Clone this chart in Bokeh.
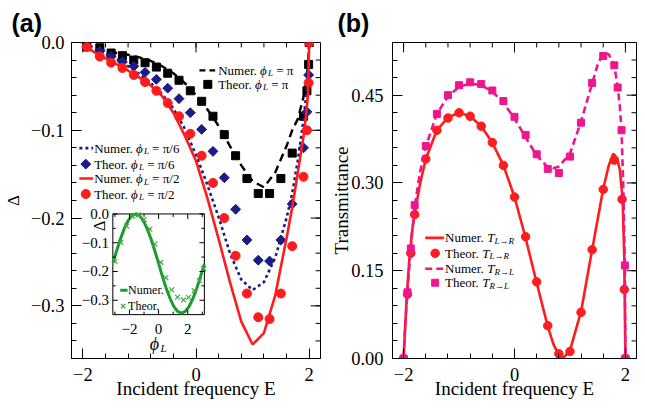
import math
from bokeh.plotting import figure
from bokeh.models import Range1d, FixedTicker, Label
from bokeh.layouts import row
from bokeh.embed import file_html
from bokeh.resources import INLINE

SERIF = "Liberation Serif"
SANS = "Liberation Sans"

# ---------------- panel (a): numerical curves ----------------
E_num = [-1.97, -1.8, -1.6, -1.4, -1.2, -1.0, -0.8, -0.6, -0.4, -0.2, 0.0, 0.2, 0.4,
         0.6, 0.8, 1.0, 1.2, 1.4, 1.6, 1.7, 1.8, 1.9, 1.95, 1.98, 2.0]
d_num_pi = [-0.001, -0.005, -0.009, -0.012, -0.014, -0.017, -0.021, -0.027, -0.035, -0.046,
            -0.060, -0.076, -0.095, -0.118, -0.140, -0.158, -0.165, -0.148, -0.118, -0.100,
            -0.087, -0.062, -0.044, -0.025, 0.0]
d_num_pi6 = [-0.001, -0.007, -0.013, -0.019, -0.027, -0.036, -0.046, -0.059, -0.075, -0.098,
             -0.128, -0.162, -0.199, -0.240, -0.270, -0.282, -0.273, -0.245, -0.200, -0.172,
             -0.134, -0.088, -0.058, -0.035, 0.0]
d_num_pi2 = [-0.002, -0.011, -0.018, -0.025, -0.032, -0.040, -0.049, -0.061, -0.080, -0.106,
             -0.135, -0.177, -0.224, -0.273, -0.318, -0.344, -0.331, -0.288, -0.223, -0.188,
             -0.148, -0.107, -0.080, -0.058, 0.0]

# ---------------- panel (a): theoretical points ----------------
E_th = [-1.93, -1.7, -1.5, -1.3, -1.1, -0.9, -0.7, -0.5, -0.3, -0.1, 0.1, 0.3, 0.5, 0.7,
        0.9, 1.1, 1.3, 1.5, 1.7, 1.9, 1.96, 1.99, 2.0]
d_th_pi = [-0.005, -0.006, -0.012, -0.015, -0.020, -0.023, -0.028, -0.035, -0.043, -0.055,
           -0.067, -0.084, -0.105, -0.129, -0.155, -0.172, -0.172, -0.155, -0.126, -0.084,
           -0.055, -0.025, 0.0]
d_th_pi6 = [-0.005, -0.010, -0.016, -0.022, -0.027, -0.034, -0.042, -0.052, -0.064, -0.080,
            -0.099, -0.124, -0.154, -0.190, -0.225, -0.248, -0.249, -0.225, -0.184, -0.120,
            -0.079, -0.037, 0.0]
d_th_pi2 = [-0.005, -0.016, -0.023, -0.029, -0.037, -0.045, -0.055, -0.069, -0.084, -0.104,
            -0.129, -0.160, -0.200, -0.243, -0.286, -0.313, -0.315, -0.286, -0.232, -0.153,
            -0.100, -0.046, 0.0]

# ---------------- inset: Delta vs phi_L ----------------
phi_num = [-3.14, -2.88, -2.62, -2.36, -2.09, -1.83, -1.57, -1.31, -1.05, -0.79, -0.52, -0.26,
           0.0, 0.26, 0.52, 0.79, 1.05, 1.31, 1.57, 1.83, 2.09, 2.36, 2.62, 2.88, 3.14]
d_phi_num = [-0.170, -0.128, -0.087, -0.051, -0.023, -0.006, 0.0, -0.006, -0.023, -0.051,
             -0.087, -0.128, -0.172, -0.217, -0.258, -0.294, -0.322, -0.339, -0.345, -0.339,
             -0.322, -0.294, -0.258, -0.217, -0.174]
phi_th = [-3.0, -2.6, -2.2, -1.8, -1.4, -1.0, -0.6, -0.25, 0.15, 0.5, 0.9, 1.3, 1.7, 2.05,
          2.45, 2.8, 3.1]
d_phi_th = [-0.165, -0.099, -0.042, -0.008, -0.003, -0.020, -0.053, -0.105, -0.168, -0.222,
            -0.264, -0.289, -0.299, -0.290, -0.267, -0.232, -0.190]

# ---------------- panel (b): transmittance ----------------
E_lr_num = [-2.0, -1.97, -1.94, -1.9, -1.85, -1.8, -1.7, -1.6, -1.4, -1.2, -1.0, -0.8, -0.6,
            -0.4, -0.2, 0.0, 0.2, 0.4, 0.6, 0.7, 0.8, 0.85, 0.9, 1.0, 1.2, 1.4, 1.6, 1.7,
            1.78, 1.85, 1.9, 1.95, 1.98, 2.0]
T_lr_num = [0.0, 0.056, 0.11, 0.165, 0.215, 0.248, 0.300, 0.341, 0.390, 0.412, 0.420, 0.414,
            0.397, 0.369, 0.330, 0.276, 0.206, 0.129, 0.055, 0.025, 0.005, 0.001, 0.003,
            0.014, 0.080, 0.186, 0.290, 0.330, 0.350, 0.342, 0.322, 0.272, 0.170, 0.0]
E_rl_num = [-2.0, -1.97, -1.93, -1.87, -1.8, -1.7, -1.6, -1.4, -1.2, -1.0, -0.8, -0.6, -0.4,
            -0.2, 0.0, 0.2, 0.4, 0.6, 0.7, 0.8, 1.0, 1.2, 1.4, 1.5, 1.6, 1.7, 1.8, 1.86,
            1.9, 1.93, 1.96, 1.99, 2.0]
T_rl_num = [0.0, 0.06, 0.115, 0.19, 0.26, 0.32, 0.362, 0.418, 0.448, 0.464, 0.470, 0.467,
            0.456, 0.437, 0.410, 0.378, 0.347, 0.327, 0.325, 0.328, 0.350, 0.405, 0.470,
            0.502, 0.522, 0.520, 0.500, 0.465, 0.430, 0.390, 0.300, 0.160, 0.0]
E_lr_th = [-2.0, -1.93, -1.87, -1.8, -1.6, -1.4, -1.2, -1.0, -0.8, -0.6, -0.4, -0.2, 0.0,
           0.2, 0.4, 0.6, 0.8, 1.0, 1.2, 1.4, 1.6, 1.8, 1.94, 1.98, 2.0]
T_lr_th = [0.0, 0.11, 0.18, 0.246, 0.341, 0.39, 0.411, 0.420, 0.414, 0.397, 0.369, 0.330,
           0.276, 0.208, 0.131, 0.056, 0.008, 0.012, 0.079, 0.186, 0.289, 0.339, 0.272,
           0.118, 0.0]
E_rl_th = [-2.0, -1.93, -1.87, -1.8, -1.6, -1.4, -1.2, -1.0, -0.8, -0.6, -0.4, -0.2, 0.0,
           0.2, 0.4, 0.6, 0.8, 1.0, 1.2, 1.4, 1.6, 1.8, 1.86, 1.93, 1.99, 2.0]
T_rl_th = [0.0, 0.113, 0.188, 0.262, 0.363, 0.418, 0.450, 0.467, 0.472, 0.469, 0.458, 0.440,
           0.413, 0.382, 0.349, 0.324, 0.317, 0.345, 0.403, 0.471, 0.517, 0.501, 0.463,
           0.390, 0.159, 0.0]

# ---------------- ticks ----------------
x_ticks = [-2, 0, 2]
x_labels = ["−2", "0", "2"]
ya_ticks = [0.0, -0.1, -0.2, -0.3]
ya_labels = ["0.0", "−0.1", "−0.2", "−0.3"]
yb_ticks = [0.0, 0.15, 0.30, 0.45]
yb_labels = ["0.00", "0.15", "0.30", "0.45"]
in_x_ticks = [-2, 0, 2]
in_x_labels = ["−2", "0", "2"]
in_y_ticks = [0.0, -0.1, -0.2, -0.3]
in_y_labels = ["0.0", "−0.1", "−0.2", "−0.3"]

BLACK = "black"
NAVY = "#1c1c88"
RED = "#ff1c1c"
PINK = "#ee168f"
GREEN = "#1f9a2e"
LGREEN = "#45a845"

# ---------------- helpers ----------------
W_REG = {' ': 0.25, '.': 0.25, '/': 0.278, '=': 0.564, 'π': 0.55, '−': 0.564, 'N': 0.722,
         'T': 0.611, 'u': 0.5, 'm': 0.778, 'e': 0.444, 'r': 0.333, 'h': 0.5, 'o': 0.5,
         'I': 0.333, 'n': 0.5, 'c': 0.444, 'i': 0.278, 'd': 0.5, 't': 0.278, 'f': 0.333,
         'q': 0.5, 'y': 0.5, '→': 0.85}
W_IT = {'ϕ': 0.62, 'L': 0.556, 'R': 0.611, 'T': 0.556, 'E': 0.611, '→': 0.85}


def twidth(s, size, style):
    tbl = W_IT if style == "italic" else W_REG
    return sum(tbl.get(c, W_REG.get(c, 0.5)) for c in s) * size


class Map:
    def __init__(self, L, R, T, B, xr, yr):
        self.L, self.R, self.T, self.B, self.xr, self.yr = L, R, T, B, xr, yr

    def x(self, X):
        return self.xr[0] + (X - self.L) / (self.R - self.L) * (self.xr[1] - self.xr[0])

    def y(self, Y):
        return self.yr[1] - (Y - self.T) / (self.B - self.T) * (self.yr[1] - self.yr[0])

    def dx(self, px):
        return px / (self.R - self.L) * (self.xr[1] - self.xr[0])

    def dy(self, px):
        return px / (self.B - self.T) * (self.yr[1] - self.yr[0])


def put(p, m, X, Y, text, size, style="normal", align="left", baseline="middle",
        angle=0.0, font=SERIF):
    p.add_layout(Label(x=m.x(X), y=m.y(Y), text=text, text_font=font,
                       text_font_size=f"{size}px", text_font_style=style,
                       text_align=align, text_baseline=baseline, angle=angle,
                       text_color="black"))


def rich(p, m, X, Y, pieces):
    for s, sz, st, dy in pieces:
        core = s.lstrip(" ")
        X += twidth(s[:len(s) - len(core)], sz, "normal")
        put(p, m, X, Y + dy, core.rstrip(" "), sz, st)
        X += twidth(core, sz, st)


def cfg_axis(ax, ticks, minor, labels, standoff, title, title_size, title_standoff):
    ax.ticker = FixedTicker(ticks=ticks, minor_ticks=minor)
    ax.major_tick_in = 10
    ax.major_tick_out = 0
    ax.minor_tick_in = 5
    ax.minor_tick_out = 0
    ax.axis_line_color = BLACK
    ax.major_tick_line_color = BLACK
    ax.minor_tick_line_color = BLACK
    ax.major_label_overrides = dict(zip(ticks, labels))
    ax.major_label_text_font = SERIF
    ax.major_label_text_font_size = "18.5px"
    ax.major_label_text_color = BLACK
    ax.major_label_standoff = standoff
    ax.axis_label = title
    ax.axis_label_text_font = SERIF
    ax.axis_label_text_font_style = "normal"
    ax.axis_label_text_font_size = f"{title_size}px"
    ax.axis_label_text_color = BLACK
    ax.axis_label_standoff = title_standoff


def mirror_ticks(p, m, xticks, xminor, yticks, yminor):
    x1, y1 = m.xr[1], m.yr[1]
    xs0, ys0, xs1, ys1 = [], [], [], []
    for t in xminor:
        xs0.append(t); ys0.append(y1); xs1.append(t); ys1.append(y1 - m.dy(5))
    for t in xticks:
        xs0.append(t); ys0.append(y1); xs1.append(t); ys1.append(y1 - m.dy(10))
    for t in yminor:
        xs0.append(x1); ys0.append(t); xs1.append(x1 - m.dx(5)); ys1.append(t)
    for t in yticks:
        xs0.append(x1); ys0.append(t); xs1.append(x1 - m.dx(10)); ys1.append(t)
    p.segment(xs0, ys0, xs1, ys1, line_color=BLACK, line_width=1)


def base_fig(width, bl, br, m, xminor, yticks, yminor, ylabels, ystand, ytitle,
             ytitle_size, ytitle_stand, panel, title_offset):
    p = figure(width=width, height=404, x_range=Range1d(*m.xr), y_range=Range1d(*m.yr),
               output_backend="svg", toolbar_location=None,
               min_border_left=bl, min_border_right=br, min_border_top=41,
               min_border_bottom=46, title=panel)
    p.grid.visible = False
    p.outline_line_color = BLACK
    p.background_fill_color = "white"
    p.border_fill_color = "white"
    p.title.align = "left"
    p.title.offset = title_offset
    p.title.standoff = 12
    p.title.text_font = SANS
    p.title.text_font_size = "25px"
    p.title.text_font_style = "bold"
    p.title.text_color = BLACK
    cfg_axis(p.xaxis[0], x_ticks, xminor, x_labels, 9, "Incident frequency E", 19, -6)
    cfg_axis(p.yaxis[0], yticks, yminor, ylabels, ystand, ytitle, ytitle_size, ytitle_stand)
    mirror_ticks(p, m, x_ticks, xminor, yticks, yminor)
    return p


x_minor = [round(-2.0 + 0.4 * k, 2) for k in range(11)]
ya_minor = [round(-0.36 + 0.02 * k, 2) for k in range(19)]
yb_minor = [round(0.03 * k, 2) for k in range(19)]

# ================= panel (a) =================
ma = Map(67, 320, 41, 358, (-2.2, 2.2), (-0.36, 0.0))
pa = base_fig(328, 67, 8, ma, x_minor, ya_ticks, ya_minor, ya_labels, 7, "Δ", 17, 5,
              "(a)", -60)

pa.line(E_num, d_num_pi, line_color=BLACK, line_width=2.4, line_dash="8 5")
pa.scatter(E_th, d_th_pi, marker="square", size=8, color=BLACK)
pa.line(E_num, d_num_pi6, line_color=NAVY, line_width=2.6, line_dash="3 3")
pa.scatter(E_th, d_th_pi6, marker="square", angle=math.pi / 4, size=7, color=NAVY)
pa.line(E_num, d_num_pi2, line_color=RED, line_width=2.6)
pa.scatter(E_th, d_th_pi2, marker="circle", size=9, color=RED)

# legend 1 (top right)
pa.line([ma.x(197), ma.x(213)], [ma.y(69)] * 2, line_color=BLACK, line_width=2.4,
        line_dash="6 4")
pa.scatter([ma.x(205.5)], [ma.y(83)], marker="square", size=8, color=BLACK)
rich(pa, ma, 216, 69, [("Numer. ", 13, "normal", 0), ("ϕ", 13, "italic", 0),
                       ("L", 9, "italic", 3), (" = π", 13, "normal", 0)])
rich(pa, ma, 216, 83, [("Theor. ", 13, "normal", 0), ("ϕ", 13, "italic", 0),
                       ("L", 9, "italic", 3), (" = π", 13, "normal", 0)])
# legend 2 (left)
pa.line([ma.x(75), ma.x(89)], [ma.y(147)] * 2, line_color=NAVY, line_width=2.6,
        line_dash="3 3")
pa.scatter([ma.x(81.5)], [ma.y(163)], marker="square", angle=math.pi / 4, size=7, color=NAVY)
pa.line([ma.x(75), ma.x(89)], [ma.y(177.5)] * 2, line_color=RED, line_width=2.6)
pa.scatter([ma.x(81.5)], [ma.y(193)], marker="circle", size=9, color=RED)
for Yr, head, tail in [(147, "Numer. ", " = π/6"), (163, "Theor. ", " = π/6"),
                       (177.5, "Numer. ", " = π/2"), (193, "Theor. ", " = π/2")]:
    rich(pa, ma, 90, Yr, [(head, 13, "normal", 0), ("ϕ", 13, "italic", 0),
                          ("L", 9, "italic", 3), (tail, 13, "normal", 0)])

# ---- inset ----
IL, IR, IT, IB = 109, 202, 213, 314
ix0, ix1 = -math.pi, math.pi
iy0, iy1 = -0.35, 0.0
sxp = (ix1 - ix0) / (IR - IL)   # inset x units per px
syp = (iy1 - iy0) / (IB - IT)   # inset y units per px
pa.extra_x_ranges = {"ix": Range1d(ix0 - (IL - 67) * sxp, ix1 + (320 - IR) * sxp)}
pa.extra_y_ranges = {"iy": Range1d(iy0 - (358 - IB) * syp, iy1 + (IT - 41) * syp)}
kw = dict(x_range_name="ix", y_range_name="iy")
pa.quad(left=[ix0], right=[ix1], bottom=[iy0], top=[iy1], fill_color="white",
        line_color=BLACK, line_width=1, **kw)
pa.line(phi_num, d_phi_num, line_color=GREEN, line_width=3, **kw)
pa.scatter(phi_th, d_phi_th, marker="x", size=7, line_color=LGREEN, line_width=1.2, **kw)

in_x_minor = [-3, -1, 1, 3]
in_y_minor = [-0.05, -0.15, -0.25]
segs = []
for v, ln in [(t, 5) for t in in_x_ticks] + [(t, 3) for t in in_x_minor]:
    segs.append((v, iy0, v, iy0 + ln * syp))
    segs.append((v, iy1, v, iy1 - ln * syp))
for v, ln in [(t, 5) for t in in_y_ticks] + [(t, 3) for t in in_y_minor]:
    segs.append((ix0, v, ix0 + ln * sxp, v))
    segs.append((ix1, v, ix1 - ln * sxp, v))
pa.segment([s[0] for s in segs], [s[1] for s in segs], [s[2] for s in segs],
           [s[3] for s in segs], line_color=BLACK, line_width=1, **kw)


def inx(phi):
    return IL + (phi - ix0) / sxp


def iny(d):
    return IT + (iy1 - d) / syp


for t, lab in zip(in_x_ticks, in_x_labels):
    put(pa, ma, inx(t), 328, lab, 15, align="center")
for t, lab in zip(in_y_ticks, in_y_labels):
    put(pa, ma, 105, iny(t), lab, 15, align="right")
put(pa, ma, 146.5, 343, "ϕ", 18, "italic")
put(pa, ma, 157.5, 347.5, "L", 11, "italic")
put(pa, ma, 95, 225, "Δ", 16, align="center", angle=math.pi / 2)
# inset legend
pa.line([ma.x(116.5), ma.x(124)], [ma.y(289.5)] * 2, line_color=GREEN, line_width=3)
pa.scatter([ma.x(119.5)], [ma.y(305.5)], marker="x", size=6, line_color=LGREEN,
           line_width=1.2)
put(pa, ma, 124.5, 289.5, "Numer.", 12)
put(pa, ma, 124.5, 305.5, "Theor.", 12)

# ================= panel (b) =================
mb = Map(390, 636, 41, 358, (-2.2, 2.2), (0.0, 0.54))
pb = base_fig(309, 62, 1, mb, x_minor, yb_ticks, yb_minor, yb_labels, 9, "Transmittance", 19,
              -4, "(b)", -55)

pb.line(E_lr_num, T_lr_num, line_color=RED, line_width=2.6)
pb.scatter(E_lr_th, T_lr_th, marker="circle", size=8.5, color=RED)
pb.line(E_rl_num, T_rl_num, line_color=PINK, line_width=2.6, line_dash="7 4")
pb.scatter(E_rl_th, T_rl_th, marker="square", size=7, color=PINK)

pb.line([mb.x(423), mb.x(442)], [mb.y(237)] * 2, line_color=RED, line_width=2.6)
pb.scatter([mb.x(433)], [mb.y(252.5)], marker="circle", size=8.5, color=RED)
pb.line([mb.x(423), mb.x(442)], [mb.y(268)] * 2, line_color=PINK, line_width=2.6,
        line_dash="7 4")
pb.scatter([mb.x(433)], [mb.y(282)], marker="square", size=7, color=PINK)
for Yr, head, sub in [(237, "Numer. ", "L→R"), (252.5, "Theor. ", "L→R"),
                      (268, "Numer. ", "R→L"), (282, "Theor. ", "R→L")]:
    rich(pb, mb, 443, Yr, [(head, 13, "normal", 0), ("T", 13, "italic", 0),
                           (sub, 9, "italic", 3)])

layout = row(pa, pb)
open("out.html", "w").write(file_html(layout, INLINE))
